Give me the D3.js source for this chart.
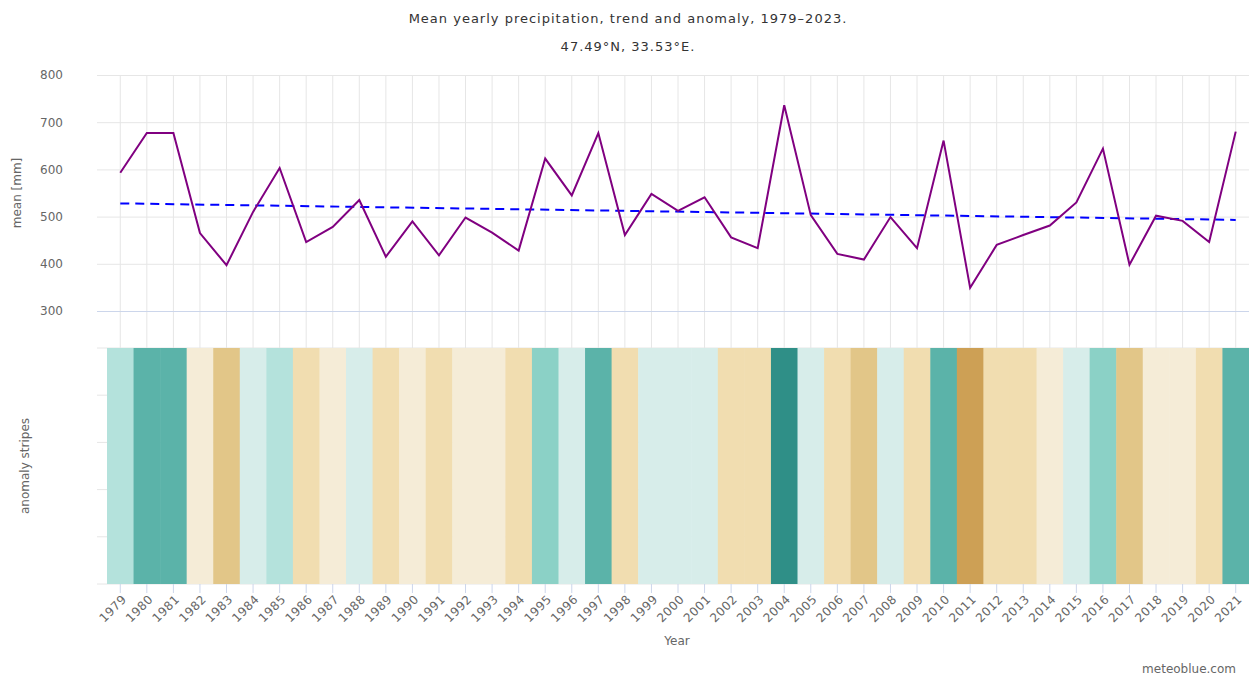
<!DOCTYPE html>
<html>
<head>
<meta charset="utf-8">
<script src="https://cdn.jsdelivr.net/npm/d3@7"></script>
<style>
  body { margin: 0; background: #fff; }
  svg text { font-family: "DejaVu Sans", sans-serif; }
</style>
</head>
<body>
<svg id="chart" width="1249" height="675"></svg>
<script>
// yearly values
let years = d3.range(1979, 2022);
let meanPrecip = [593, 677, 677, 465, 397, 510, 603, 446, 478, 535,
                  415, 490, 418, 498, 466, 428, 623, 545, 677, 461,
                  548, 512, 541, 456, 433, 736, 503, 421, 409, 499,
                  433, 661, 349, 440, 461, 481, 530, 644, 398, 502,
                  491, 446, 680];
let trendYears = [1979, 2021];
let trendValues = [528, 493];
// anomaly class per year: negative = drier, positive = wetter
let anomalyClass = [2, 4, 4, -1, -3, 1, 2, -2, -1, 1,
                    -2, -1, -2, -1, -1, -2, 3, 1, 4, -2,
                    1, 1, 1, -2, -2, 5, 1, -2, -3, 1,
                    -2, 4, -4, -2, -2, -1, 1, 3, -3, -1,
                    -1, -2, 4];
let meanTicks = [300, 400, 500, 600, 700, 800];

let svg = d3.select("#chart");

let left = 97, right = 1249;
let topPanel = {top: 75, bottom: 348};
let stripePanel = {top: 348, bottom: 584};

// x: one band per year, stripes fill the band
let x = d3.scaleBand()
    .domain(years)
    .range([107, right])
    .padding(0);
let xc = d => x(d) + x.bandwidth() / 2;

let y = d3.scaleLinear()
    .domain([221.6, 800])
    .range([topPanel.bottom, topPanel.top]);

let stripeColor = d3.scaleOrdinal()
    .domain([-4, -3, -2, -1, 1, 2, 3, 4, 5])
    .range(["#cda055", "#e2c688", "#f1ddb0", "#f5ecd7",
            "#d7edea", "#b4e2dc", "#8bd1c6", "#5bb3a9", "#2f8f87"]);

// title
svg.append("text")
    .attr("x", 628).attr("y", 23)
    .attr("text-anchor", "middle")
    .style("font-size", "13px")
    .style("letter-spacing", "1px")
    .style("fill", "#333")
    .text("Mean yearly precipitation, trend and anomaly, 1979\u20132023.");
svg.append("text")
    .attr("x", 628).attr("y", 51)
    .attr("text-anchor", "middle")
    .style("font-size", "13px")
    .style("letter-spacing", "1px")
    .style("fill", "#333")
    .text("47.49\u00b0N, 33.53\u00b0E.");

// vertical grid for the top panel
svg.append("g")
  .selectAll("line")
  .data(years)
  .enter()
  .append("line")
    .attr("x1", d => xc(d)).attr("x2", d => xc(d))
    .attr("y1", topPanel.top).attr("y2", topPanel.bottom)
    .style("stroke", "#e6e6e6")
    .style("stroke-width", 1);

// y axis (mean)
let yAxis = svg.append("g")
    .attr("transform", "translate(" + left + ",0)")
    .call(d3.axisLeft(y).tickValues(meanTicks).tickSize(-(right - left)).tickPadding(34));
yAxis.select(".domain").remove();
yAxis.selectAll(".tick line")
    .style("stroke", d => d == 300 ? "#ccd6eb" : "#e6e6e6");
yAxis.selectAll(".tick text")
    .style("font-size", "12px")
    .style("fill", "#666");

svg.append("text")
    .attr("transform", "translate(21," + ((topPanel.top + 311) / 2) + ") rotate(-90)")
    .attr("text-anchor", "middle")
    .style("font-size", "12px")
    .style("fill", "#666")
    .text("mean [mm]");

// stripe panel grid (only the left stub shows)
let stripeY = d3.scaleLinear()
    .domain([0, 5])
    .range([stripePanel.bottom, stripePanel.top]);
svg.append("g")
  .selectAll("line")
  .data(d3.range(0, 6))
  .enter()
  .append("line")
    .attr("x1", left).attr("x2", right)
    .attr("y1", d => stripeY(d)).attr("y2", d => stripeY(d))
    .style("stroke", "#e6e6e6");

// anomaly stripes
svg.append("g")
  .selectAll("rect")
  .data(years)
  .enter()
  .append("rect")
    .attr("x", d => x(d))
    .attr("y", stripePanel.top)
    .attr("width", x.bandwidth() + 0.5)
    .attr("height", stripePanel.bottom - stripePanel.top)
    .style("fill", (d, i) => stripeColor(anomalyClass[i]));

svg.append("text")
    .attr("transform", "translate(29," + ((stripePanel.top + stripePanel.bottom) / 2) + ") rotate(-90)")
    .attr("text-anchor", "middle")
    .style("font-size", "12px")
    .style("fill", "#666")
    .text("anomaly stripes");

// trend line
let trendLine = d3.line()
    .x(d => xc(d[0]))
    .y(d => y(d[1]));
svg.append("path")
    .datum(d3.zip(trendYears, trendValues))
    .attr("d", trendLine)
    .style("fill", "none")
    .style("stroke", "#0000ff")
    .style("stroke-width", 2)
    .style("stroke-dasharray", "9,6");

// mean precipitation line
let meanLine = d3.line()
    .x(d => xc(d[0]))
    .y(d => y(d[1]));
svg.append("path")
    .datum(d3.zip(years, meanPrecip))
    .attr("d", meanLine)
    .style("fill", "none")
    .style("stroke", "#800080")
    .style("stroke-width", 2)
    .style("stroke-linejoin", "miter");

// x axis
let xAxis = svg.append("g")
    .attr("transform", "translate(0," + stripePanel.bottom + ")")
    .call(d3.axisBottom(x).tickSize(9));
xAxis.select(".domain").remove();
xAxis.selectAll(".tick line").style("stroke", "#ccd6eb");
xAxis.selectAll(".tick text")
    .style("font-size", "12px")
    .style("letter-spacing", "0.5px")
    .style("fill", "#666")
    .attr("text-anchor", "end")
    .attr("x", 0)
    .attr("y", 0)
    .attr("dy", "0.35em")
    .attr("transform", "translate(4,13) rotate(-45)");

svg.append("text")
    .attr("x", 677).attr("y", 645)
    .attr("text-anchor", "middle")
    .style("font-size", "12px")
    .style("fill", "#666")
    .text("Year");

svg.append("text")
    .attr("x", 1236).attr("y", 673)
    .attr("text-anchor", "end")
    .style("font-size", "12px")
    .style("fill", "#666")
    .text("meteoblue.com");
</script>
</body>
</html>
